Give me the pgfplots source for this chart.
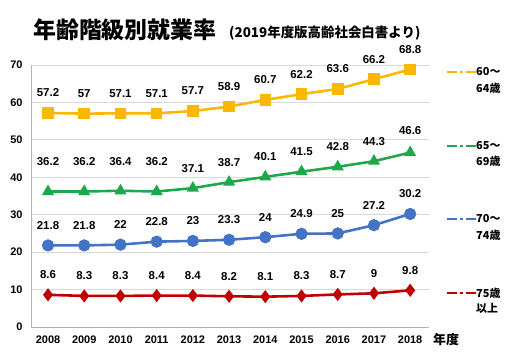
\documentclass[border=0pt]{standalone}
\usepackage{pgfplots}
\pgfplotsset{compat=1.18}
\usepackage{fontspec}
\setmainfont{Liberation Sans}
\newfontfamily\cjk{Noto Sans CJK JP}
\definecolor{yel}{RGB}{250,185,0}
\definecolor{grn}{RGB}{30,168,75}
\definecolor{blu}{RGB}{68,114,196}
\definecolor{red2}{RGB}{192,0,0}
\definecolor{gridgray}{RGB}{217,217,217}
\definecolor{axisblue}{RGB}{160,180,212}
\begin{document}
\begin{tikzpicture}
\useasboundingbox (0,0) rectangle (520bp,359bp);
\begin{axis}[
  at={(31bp,32bp)}, anchor=south west,
  scale only axis, width=398bp, height=262bp,
  xmin=2007.53, xmax=2018.52, ymin=0, ymax=70,
  ytick={0,10,...,70}, xtick={2008,...,2018},
  ymajorgrids, grid style={draw=gridgray, line width=0.8pt},
  axis x line=bottom, axis y line=left,
  axis line style={-, draw=axisblue, line width=1pt},
  major tick length=0,
  tick label style={font=\bfseries\fontsize{11}{13}\selectfont},
  /pgf/number format/assume math mode=true,
  /pgf/number format/1000 sep={},
  xticklabel style={yshift=-5bp},
  yticklabel style={xshift=-5bp},
  clip=false,
  every axis plot/.append style={line width=2.6pt},
  nodes near coords,
  nodes near coords style={anchor=center, yshift=20bp, text=black,
     font=\bfseries\fontsize{11.5}{13}\selectfont},
]
\addplot[yel, mark=square*, mark size=4.5pt, mark options={solid, fill=yel}] coordinates {
 (2008,57.2) (2009,57) (2010,57.1) (2011,57.1) (2012,57.7) (2013,58.9)
 (2014,60.7) (2015,62.2) (2016,63.6) (2017,66.2) (2018,68.8)};
\addplot[grn, mark=triangle*, mark size=4.5pt, mark options={solid, fill=grn},
  visualization depends on={value \thisrow{dy} \as \dy},
  nodes near coords style={yshift=\dy bp}] table[x=x, y=y] {
 x y dy
 2008 36.2 10
 2009 36.2 10
 2010 36.4 9
 2011 36.2 10
 2012 37.1 0
 2013 38.7 0
 2014 40.1 0
 2015 41.5 0
 2016 42.8 0
 2017 44.3 0
 2018 46.6 2
};
\addplot[blu, mark=*, mark size=4.8pt, mark options={solid, fill=blu}] coordinates {
 (2008,21.8) (2009,21.8) (2010,22) (2011,22.8) (2012,23) (2013,23.3)
 (2014,24) (2015,24.9) (2016,25) (2017,27.2) (2018,30.2)};
\addplot[red2, mark=diamond*, mark size=4.5pt, mark options={solid, fill=red2}] coordinates {
 (2008,8.6) (2009,8.3) (2010,8.3) (2011,8.4) (2012,8.4) (2013,8.2)
 (2014,8.1) (2015,8.3) (2016,8.7) (2017,9) (2018,9.8)};
\end{axis}
% title
\node[anchor=west, inner sep=0, font=\cjk\bfseries\fontsize{23}{26}\selectfont] at (33bp,329bp) {年齢階級別就業率};
\node[anchor=west, inner sep=0, font=\cjk\bfseries\fontsize{13.5}{15}\selectfont] at (229bp,326bp) {(2019年度版高齢社会白書より)};
\node[anchor=west, inner sep=0, font=\cjk\bfseries\fontsize{13}{15}\selectfont] at (433bp,19bp) {年度};
% legend
\tikzset{lgline/.style={line width=2.5bp, dash pattern=on 10bp off 3bp on 3bp off 3bp on 10bp},
  lgtext/.style={anchor=west, inner sep=0, font=\cjk\bfseries\fontsize{11}{13}\selectfont}}
\draw[yel, lgline] (447bp,287bp) -- (476bp,287bp);
\node[lgtext] at (476bp,287bp) {60～};
\node[lgtext] at (476bp,271bp) {64歳};
\draw[grn, lgline] (447bp,213bp) -- (476bp,213bp);
\node[lgtext] at (476bp,213bp) {65～};
\node[lgtext] at (476bp,198bp) {69歳};
\draw[blu, lgline] (447bp,140bp) -- (476bp,140bp);
\node[lgtext] at (476bp,140bp) {70～};
\node[lgtext] at (476bp,124bp) {74歳};
\draw[red2, lgline] (447bp,66bp) -- (476bp,66bp);
\node[lgtext] at (476bp,66bp) {75歳};
\node[lgtext] at (476bp,51bp) {以上};
\end{tikzpicture}
\end{document}
